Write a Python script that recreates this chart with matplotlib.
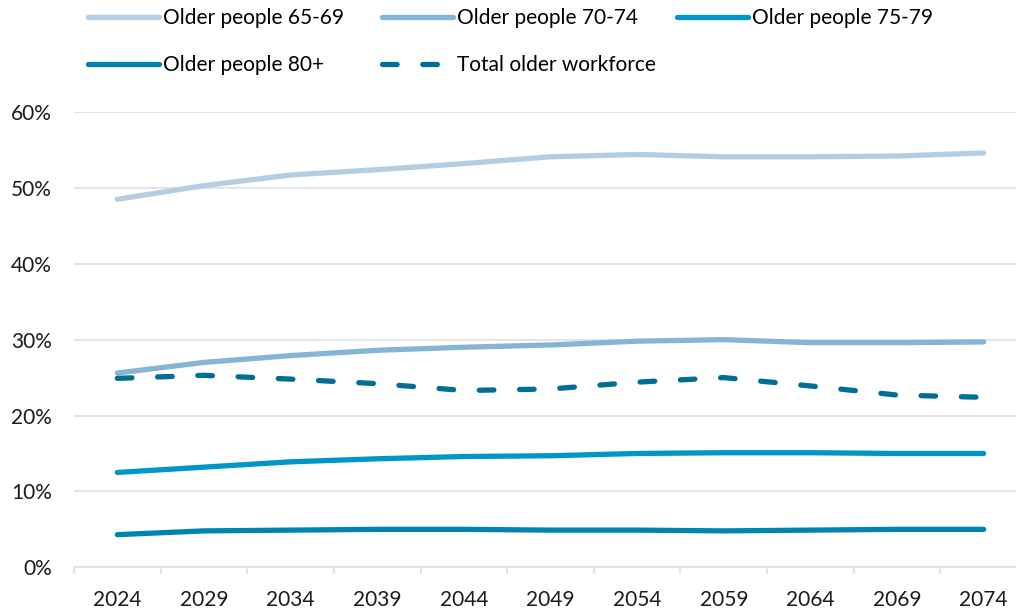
import matplotlib
matplotlib.use("Agg")
import matplotlib.pyplot as plt

years = ["2024", "2029", "2034", "2039", "2044", "2049", "2054", "2059", "2064", "2069", "2074"]
age_65_69 = [48.5, 50.3, 51.7, 52.4, 53.2, 54.1, 54.4, 54.1, 54.1, 54.2, 54.6]
age_70_74 = [25.6, 27.0, 27.9, 28.6, 29.0, 29.3, 29.8, 30.0, 29.6, 29.6, 29.7]
age_75_79 = [12.5, 13.2, 13.9, 14.3, 14.6, 14.7, 15.0, 15.1, 15.1, 15.0, 15.0]
age_80_plus = [4.3, 4.8, 4.9, 5.0, 5.0, 4.9, 4.9, 4.8, 4.9, 5.0, 5.0]
total_older = [24.9, 25.3, 24.8, 24.2, 23.3, 23.5, 24.4, 25.0, 23.9, 22.7, 22.4]

labels = ["Older people 65-69", "Older people 70-74", "Older people 75-79",
          "Older people 80+", "Total older workforce"]
colors = ["#B4CDE1", "#84B4D6", "#0096C7", "#0084AF", "#006E95"]

plt.rcParams["font.family"] = ["Lato", "DejaVu Sans"]
plt.rcParams["lines.scale_dashes"] = False

W, H = 1016, 613
fig = plt.figure(figsize=(W / 100, H / 100), dpi=100)
# axes frame in pixels: left 74, right ~1027 (runs off the canvas), top 112, bottom 567
ax = fig.add_axes([74 / W, 1 - 567.3 / H, (1027 - 74) / W, (567.3 - 112) / H])

x = list(range(len(years)))
series = [age_65_69, age_70_74, age_75_79, age_80_plus, total_older]
handles = []
for i, (vals, lab, col) in enumerate(zip(series, labels, colors)):
    if i == 4:
        ln, = ax.plot(x, vals, color=col, lw=3.8, solid_capstyle="round",
                      dash_capstyle="round", dashes=(10.5, 18.5), label=lab)
    else:
        ln, = ax.plot(x, vals, color=col, lw=3.8, solid_capstyle="round", label=lab)
    handles.append(ln)

ax.set_xlim(-0.5, len(years) - 0.5)
ax.set_ylim(0, 60)
ax.set_yticks(range(0, 61, 10))
ax.set_yticklabels([f"{v}%" for v in range(0, 61, 10)])
ax.set_xticks(x)
ax.set_xticklabels(years)
ax.set_xticks([i - 0.5 for i in range(len(years) + 1)], minor=True)

ax.grid(axis="y", color="#DCDFE4", lw=1.2)
ax.set_axisbelow(True)
for s in ["top", "right", "left"]:
    ax.spines[s].set_visible(False)
ax.spines["bottom"].set_color("#DCDFE4")
ax.spines["bottom"].set_linewidth(1.2)

ax.tick_params(axis="y", length=0, pad=16, labelsize=15, colors="#1a1a1a")
ax.tick_params(axis="x", which="major", length=0, pad=16, labelsize=15, colors="#1a1a1a")
ax.tick_params(axis="x", which="minor", length=5, width=1.2, color="#DCDFE4")

# legend laid out as fixed columns, like the original
def legend_col(hs, x0):
    lg = fig.legend(handles=hs, loc="upper left", bbox_to_anchor=(x0 / W, 1 - 8 / H),
                    frameon=False, fontsize=15, handlelength=3.4, handletextpad=0.2,
                    borderpad=0, borderaxespad=0, labelspacing=1.3)
    return lg

legend_col([handles[0], handles[3]], 88)
legend_col([handles[1], handles[4]], 382)
legend_col([handles[2]], 677)

fig.savefig("out.png", dpi=100)
